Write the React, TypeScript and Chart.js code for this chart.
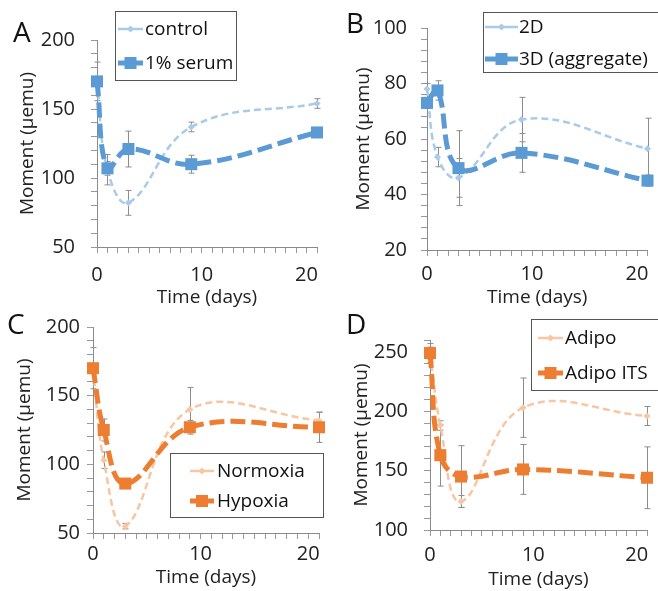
import React, { useEffect, useRef } from 'react';
import { Chart, registerables } from 'chart.js';
Chart.register(...registerables);

// ---------- DATA ----------
const days = [0, 1, 3, 9, 21];
const xTickLabels = [0, 10, 20];

// Panel A
const aLabels = ['control', '1% serum'];
const aControl = [170, 106, 82, 137, 154];
const aControlErr = [14, 11, 9, 3.5, 3.5];
const aSerum = [170, 107, 121, 110, 133];
const aSerumErr = [3, 5, 13, 6.5, 2];

// Panel B
const bLabels = ['2D', '3D (aggregate)'];
const b2D = [78, 53.5, 46, 67, 56.5];
const b2DErr = [2, 3.5, 7, 8, 11];
const b3D = [73, 77.5, 49.5, 55, 45];
const b3DErr = [2, 3.5, 13.5, 7, 2];

// Panel C
const cLabels = ['Normoxia', 'Hypoxia'];
const cNorm = [170, 103, 55, 140, 132];
const cNormErr = [15, 6, 2, 16, 6];
const cHyp = [170, 125, 86, 127, 127];
const cHypErr = [3, 8, 3, 5, 11];

// Panel D
const dLabels = ['Adipo', 'Adipo ITS'];
const dAdipo = [249, 188, 124, 203, 196];
const dAdipoErr = [8, 4, 5, 25, 8];
const dIts = [249, 163, 145, 151, 144];
const dItsErr = [5, 26, 26, 21, 26];

const yTitle = 'Moment (\u00B5emu)';
const xTitle = 'Time (days)';

// ---------- STYLE ----------
const FONT = "'Open Sans', 'Noto Sans', sans-serif";
const BLUE_DARK = '#5b9bd5';
const BLUE_LIGHT = '#a9cbea';
const ORANGE_DARK = '#ed7d31';
const ORANGE_LIGHT = '#f7c6a3';

type Panel = {
  letter: string;
  left: number; top: number; w: number; h: number;
  area: { left: number; top: number; right: number; bottom: number };
  yMin: number; yMax: number; yStep: number; yLabelEvery: number;
  yTitlePad: number; yTickPad: number; xTickPad: number; xTitlePad: number;
  letterPos: { x: number; y: number };
  legend: { x: number; y: number; w: number; h: number; rows: number[]; s0: number; s1: number; tx: number };
  labels: string[];
  light: number[]; lightErr: number[]; dark: number[]; darkErr: number[];
  cLight: string; cDark: string;
};

const panels: Panel[] = [
  {
    letter: 'A', left: 0, top: 0, w: 329, h: 312,
    area: { left: 97, top: 40, right: 317, bottom: 247 },
    yMin: 50, yMax: 200, yStep: 10, yLabelEvery: 50,
    yTitlePad: 16.6, yTickPad: 16, xTickPad: 10, xTitlePad: 2.6,
    letterPos: { x: 13, y: 42 },
    legend: { x: 115, y: 11, w: 121, h: 69, rows: [29, 63], s0: 118, s1: 143, tx: 145 },
    labels: aLabels, light: aControl, lightErr: aControlErr, dark: aSerum, darkErr: aSerumErr,
    cLight: BLUE_LIGHT, cDark: BLUE_DARK,
  },
  {
    letter: 'B', left: 329, top: 0, w: 329, h: 312,
    area: { left: 98, top: 28, right: 318.5, bottom: 250 },
    yMin: 20, yMax: 100, yStep: 4, yLabelEvery: 20,
    yTitlePad: 23.6, yTickPad: 14, xTickPad: 6, xTitlePad: 2.6,
    letterPos: { x: 17, y: 33 },
    legend: { x: 154, y: 12, w: 190, h: 60, rows: [27, 59], s0: 156, s1: 189, tx: 190 },
    labels: bLabels, light: b2D, lightErr: b2DErr, dark: b3D, darkErr: b3DErr,
    cLight: BLUE_LIGHT, cDark: BLUE_DARK,
  },
  {
    letter: 'C', left: 0, top: 300, w: 329, h: 291,
    area: { left: 93, top: 27, right: 319, bottom: 233 },
    yMin: 50, yMax: 200, yStep: 10, yLabelEvery: 50,
    yTitlePad: 13.6, yTickPad: 7, xTickPad: 3, xTitlePad: 1.6,
    letterPos: { x: 7, y: 34 },
    legend: { x: 170, y: 153, w: 153, h: 64, rows: [171, 201], s0: 190, s1: 214, tx: 217 },
    labels: cLabels, light: cNorm, lightErr: cNormErr, dark: cHyp, darkErr: cHypErr,
    cLight: ORANGE_LIGHT, cDark: ORANGE_DARK,
  },
  {
    letter: 'D', left: 329, top: 300, w: 329, h: 291,
    area: { left: 101, top: 40, right: 318, bottom: 230 },
    yMin: 100, yMax: 260, yStep: 10, yLabelEvery: 50,
    yTitlePad: 21.6, yTickPad: 16, xTickPad: 7, xTitlePad: 0,
    letterPos: { x: 17, y: 34 },
    legend: { x: 202, y: 19, w: 140, h: 71, rows: [38, 73], s0: 209, s1: 234, tx: 236 },
    labels: dLabels, light: dAdipo, lightErr: dAdipoErr, dark: dIts, darkErr: dItsErr,
    cLight: ORANGE_LIGHT, cDark: ORANGE_DARK,
  },
];

const decorPlugin = {
  id: 'panelDecor',
  beforeDatasetsDraw(chart: any) {
    const ctx = chart.ctx;
    const xs = chart.scales.x;
    const ys = chart.scales.y;
    ctx.save();
    ctx.strokeStyle = '#8c8c8c';
    ctx.lineWidth = 1;
    chart.data.datasets.forEach((ds: any) => {
      (ds.errors || []).forEach((e: number, j: number) => {
        const pt = ds.data[j];
        const px = Math.round(xs.getPixelForValue(pt.x)) + 0.5;
        const t = ys.getPixelForValue(pt.y + e);
        const b = ys.getPixelForValue(pt.y - e);
        ctx.beginPath();
        ctx.moveTo(px, t); ctx.lineTo(px, b);
        ctx.moveTo(px - 3, t); ctx.lineTo(px + 3, t);
        ctx.moveTo(px - 3, b); ctx.lineTo(px + 3, b);
        ctx.stroke();
      });
    });
    ctx.restore();
  },
  afterDraw(chart: any) {
    const o = chart.options.plugins.panelDecor;
    if (!o) return;
    const ctx = chart.ctx;
    ctx.save();
    // panel letter
    ctx.fillStyle = '#111';
    ctx.font = `28px ${FONT}`;
    ctx.textAlign = 'left';
    ctx.textBaseline = 'alphabetic';
    ctx.fillText(o.letter, o.letterPos.x, o.letterPos.y);
    // legend
    const L = o.legend;
    ctx.fillStyle = '#fff';
    ctx.fillRect(L.x, L.y, L.w, L.h);
    ctx.strokeStyle = '#555';
    ctx.lineWidth = 1;
    ctx.strokeRect(L.x + 0.5, L.y + 0.5, L.w, L.h);
    chart.data.datasets.forEach((ds: any, i: number) => {
      const cy = L.rows[i];
      const mid = (L.s0 + L.s1) / 2;
      ctx.strokeStyle = ds.borderColor;
      ctx.fillStyle = ds.borderColor;
      ctx.setLineDash([]);
      ctx.lineWidth = ds.legendLine;
      ctx.beginPath();
      ctx.moveTo(L.s0, cy); ctx.lineTo(L.s1, cy);
      ctx.stroke();
      if (ds.pointStyle === 'rect') {
        ctx.fillRect(mid - 6, cy - 6, 12, 12);
      } else {
        ctx.beginPath();
        ctx.moveTo(mid, cy - 3.5); ctx.lineTo(mid + 3.5, cy); ctx.lineTo(mid, cy + 3.5); ctx.lineTo(mid - 3.5, cy);
        ctx.closePath(); ctx.fill();
      }
      ctx.fillStyle = '#111';
      ctx.font = `19px ${FONT}`;
      ctx.textBaseline = 'middle';
      ctx.fillText(ds.label, L.tx, cy + 1);
    });
    ctx.restore();
  },
};

function makeConfig(p: Panel): any {
  const pts = (vals: number[]) => days.map((d, i) => ({ x: d, y: vals[i] }));
  const tickFont = { family: FONT, size: 20 };
  const titleFont = { family: FONT, size: 19 };
  return {
    type: 'line',
    data: {
      datasets: [
        {
          label: p.labels[0], data: pts(p.light), errors: p.lightErr, order: 1, clip: false,
          borderColor: p.cLight, backgroundColor: p.cLight, borderWidth: 2.5, borderDash: [7, 4],
          pointStyle: 'rectRot', pointRadius: 3.5, pointBorderWidth: 0, tension: 0.4, legendLine: 2.5,
        },
        {
          label: p.labels[1], data: pts(p.dark), errors: p.darkErr, order: 0, clip: false,
          borderColor: p.cDark, backgroundColor: p.cDark, borderWidth: 5, borderDash: [15, 6],
          pointStyle: 'rect', pointRadius: 8.5, pointBorderWidth: 0, tension: 0.4, legendLine: 5,
        },
      ],
    },
    options: {
      responsive: false,
      animation: false,
      events: [],
      layout: { padding: { left: 0, top: p.area.top, right: p.w - p.area.right, bottom: 0 } },
      plugins: {
        legend: { display: false },
        tooltip: { enabled: false },
        title: { display: false },
        panelDecor: { letter: p.letter, letterPos: p.letterPos, legend: p.legend },
      },
      scales: {
        x: {
          type: 'linear', min: 0, max: 21,
          afterFit: (s: any) => { s.height = p.h - p.area.bottom; },
          ticks: {
            stepSize: 1, autoSkip: false, maxRotation: 0, minRotation: 0, padding: p.xTickPad,
            color: '#222', font: tickFont,
            callback: (v: number) => (xTickLabels.includes(v) ? String(v) : ''),
          },
          grid: { drawOnChartArea: false, drawTicks: true, tickLength: 6, color: '#9a9a9a' },
          border: { display: true, color: '#8a8a8a', width: 1 },
          title: { display: true, text: xTitle, color: '#222', font: titleFont, padding: { top: 0, bottom: p.xTitlePad } },
        },
        y: {
          type: 'linear', min: p.yMin, max: p.yMax,
          afterFit: (s: any) => { s.width = p.area.left; },
          ticks: {
            stepSize: p.yStep, maxTicksLimit: 100, autoSkip: false, padding: p.yTickPad,
            color: '#222', font: tickFont,
            callback: (v: number) => (v % p.yLabelEvery === 0 ? String(v) : ''),
          },
          grid: { drawOnChartArea: false, drawTicks: true, tickLength: 6, color: '#9a9a9a' },
          border: { display: true, color: '#8a8a8a', width: 1 },
          title: { display: true, text: yTitle, color: '#222', font: titleFont, padding: { top: p.yTitlePad, bottom: 0 } },
        },
      },
    },
    plugins: [decorPlugin],
  };
}

function PanelChart({ p }: { p: Panel }) {
  const ref = useRef<HTMLCanvasElement>(null);
  useEffect(() => {
    if (!ref.current) return;
    const chart = new Chart(ref.current, makeConfig(p));
    return () => chart.destroy();
  }, [p]);
  return (
    <canvas
      ref={ref}
      width={p.w}
      height={p.h}
      style={{ position: 'absolute', left: p.left, top: p.top, width: p.w, height: p.h }}
    />
  );
}

export default function App() {
  return (
    <div style={{ position: 'absolute', left: 0, top: 0, width: 658, height: 591, background: '#fff', overflow: 'hidden' }}>
      {panels.map((p) => (
        <PanelChart key={p.letter} p={p} />
      ))}
    </div>
  );
}
